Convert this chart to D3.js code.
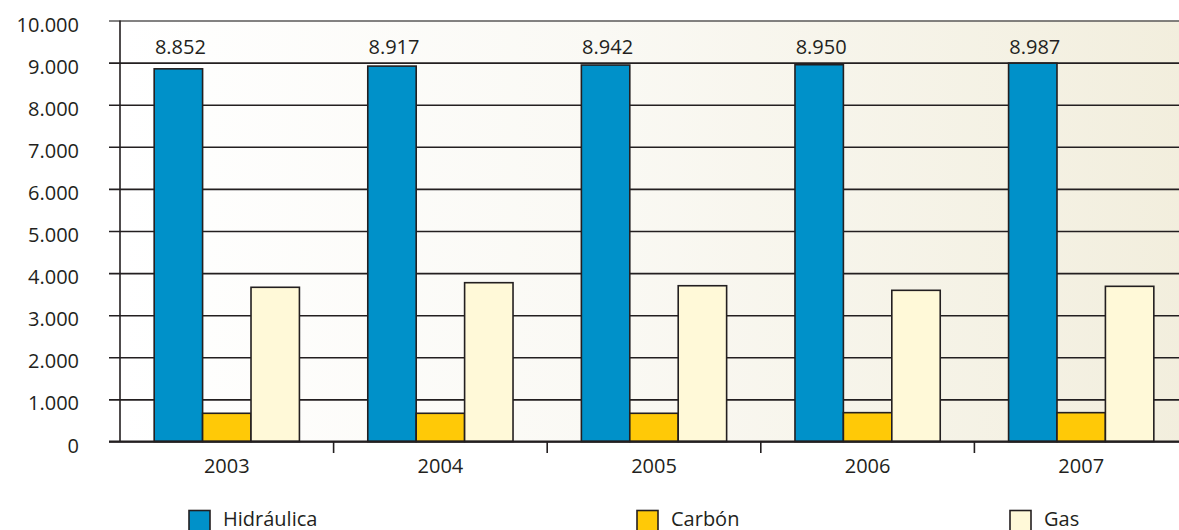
<!DOCTYPE html>
<html>
<head>
<meta charset="utf-8">
<script src="https://cdn.jsdelivr.net/npm/d3@7"></script>
<style>
  html, body { margin: 0; padding: 0; background: #ffffff; }
  svg { display: block; }
  text { font-family: "Open Sans", "Noto Sans", sans-serif; fill: #231f20; }
</style>
</head>
<body>
<svg id="chart" width="1179" height="530"></svg>
<script>
// ---- data ----
const years = ["2003", "2004", "2005", "2006", "2007"];
const seriesNames = ["Hidráulica", "Carbón", "Gas"];
const hidraulica = [8852, 8917, 8942, 8950, 8987];
const carbon = [670, 670, 670, 685, 685];
const gas = [3663, 3772, 3700, 3591, 3686];
const yTicks = [0, 1000, 2000, 3000, 4000, 5000, 6000, 7000, 8000, 9000, 10000];
const seriesColors = ["#0091c9", "#ffc907", "#fff9d8"];

const seriesValues = [hidraulica, carbon, gas];

const svg = d3.select("#chart");
const W = 1179, H = 530;
const m = { left: 120, right: -9, top: 20.5, bottom: 88.5 };
const innerRight = W - m.right;
const baseY = H - m.bottom;

const loc = d3.formatLocale({ decimal: ",", thousands: ".", grouping: [3], currency: ["", ""] });
const fmt = loc.format(",d");

const x0 = d3.scaleBand().domain(years).range([m.left, innerRight]).paddingInner(0).paddingOuter(0);
const bw = x0.bandwidth();
const x1 = d3.scaleBand().domain(seriesNames).range([bw * 0.16, bw * 0.84]).padding(0);
const y = d3.scaleLinear().domain([0, 10000]).range([baseY, m.top]);

// background gradient
const defs = svg.append("defs");
const grad = defs.append("linearGradient").attr("id", "bg").attr("x1", "0%").attr("x2", "100%").attr("y1", "0%").attr("y2", "0%");
grad.append("stop").attr("offset", "0%").attr("stop-color", "#ffffff");
grad.append("stop").attr("offset", "45%").attr("stop-color", "#faf9f4");
grad.append("stop").attr("offset", "100%").attr("stop-color", "#f2eedd");

svg.append("rect")
  .attr("x", m.left).attr("y", y(10000))
  .attr("width", innerRight - m.left).attr("height", baseY - y(10000))
  .attr("fill", "url(#bg)");

// gridlines + y axis
const yAxis = d3.axisLeft(y).tickValues(yTicks).tickFormat(d => fmt(d))
  .tickSize(-(innerRight - m.left)).tickPadding(0);
const gy = svg.append("g").attr("transform", `translate(${m.left},0)`).call(yAxis);
gy.select(".domain").remove();
gy.selectAll(".tick line")
  .attr("x1", -11)
  .attr("stroke", d => d === 10000 ? "#5a5858" : "#231f20")
  .attr("stroke-width", 1.6);
gy.selectAll(".tick text")
  .attr("x", -41).attr("dy", null).attr("y", 10.5)
  .attr("text-anchor", "end")
  .style("font-size", "20px").style("fill", "#231f20");

// vertical axis line
svg.append("line")
  .attr("x1", m.left).attr("x2", m.left)
  .attr("y1", y(10000)).attr("y2", baseY)
  .attr("stroke", "#231f20").attr("stroke-width", 1.6);

// bars
const groups = svg.append("g").selectAll("g").data(years).join("g")
  .attr("transform", d => `translate(${x0(d)},0)`);
groups.selectAll("rect")
  .data((yr, i) => seriesNames.map((s, j) => ({ s, j, v: seriesValues[j][i] })))
  .join("rect")
  .attr("x", d => x1(d.s))
  .attr("y", d => y(d.v))
  .attr("width", x1.bandwidth())
  .attr("height", d => baseY - y(d.v))
  .attr("fill", d => seriesColors[d.j])
  .attr("stroke", "#231f20")
  .attr("stroke-width", 1.6);

// value labels above Hidráulica (all on one line, between 10.000 and 9.000)
groups.append("text")
  .attr("x", (d) => x1("Hidráulica") + x1.bandwidth() / 2 + 2)
  .attr("y", y(9000) - 9)
  .attr("text-anchor", "middle")
  .style("font-size", "20px")
  .text((d, i) => fmt(hidraulica[i]));

// x axis
const xAxis = d3.axisBottom(x0).tickSize(0).tickPadding(0);
const gx = svg.append("g").attr("transform", `translate(0,${baseY})`).call(xAxis);
gx.select(".domain").remove();
gx.selectAll(".tick text")
  .attr("y", 31.5).attr("dy", null)
  .style("font-size", "20px").style("fill", "#231f20");

svg.append("line")
  .attr("x1", m.left - 11).attr("x2", innerRight)
  .attr("y1", baseY).attr("y2", baseY)
  .attr("stroke", "#231f20").attr("stroke-width", 1.8);

// separator ticks between categories
svg.append("g").selectAll("line").data(years.slice(1)).join("line")
  .attr("x1", d => x0(d)).attr("x2", d => x0(d))
  .attr("y1", baseY).attr("y2", baseY + 11.5)
  .attr("stroke", "#231f20").attr("stroke-width", 1.6);

// legend
const legendX = [189, 637, 1010];
const lg = svg.append("g").selectAll("g").data(seriesNames).join("g")
  .attr("transform", (d, i) => `translate(${legendX[i]},510.5)`);
lg.append("rect")
  .attr("width", 21).attr("height", 21)
  .attr("fill", (d, i) => seriesColors[i])
  .attr("stroke", "#231f20").attr("stroke-width", 1.6);
lg.append("text")
  .attr("x", 34).attr("y", 15)
  .style("font-size", "20px")
  .text(d => d);
</script>
</body>
</html>
